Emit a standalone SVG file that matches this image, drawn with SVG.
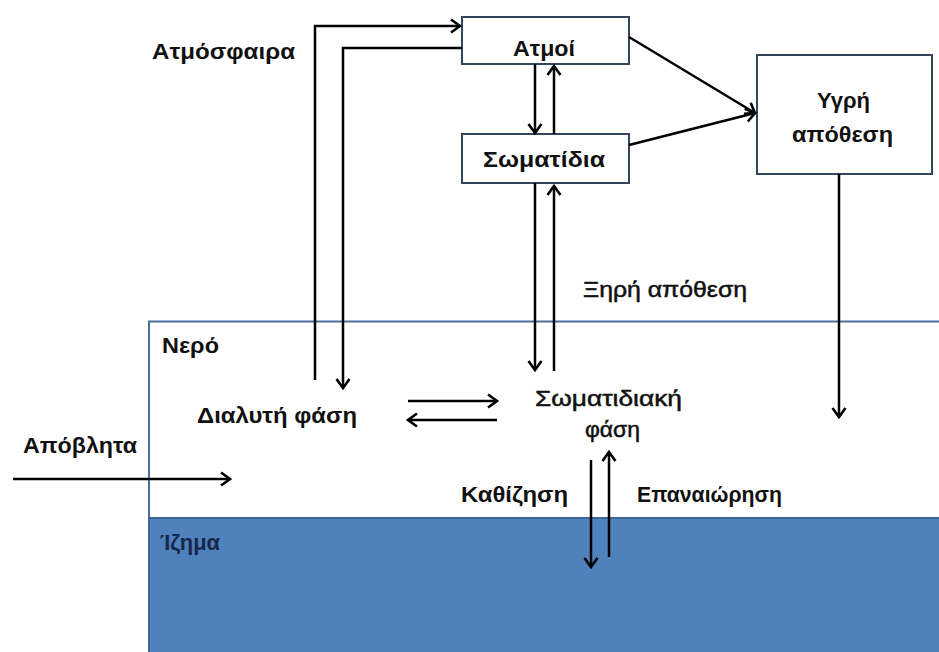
<svg xmlns="http://www.w3.org/2000/svg" width="939" height="652" viewBox="0 0 939 652">
<defs>
<marker id="ah" markerUnits="userSpaceOnUse" markerWidth="20" markerHeight="20" viewBox="-12 -10 14 20" refX="0" refY="0" orient="auto">
<path d="M-9,-6.5 L0,0 L-9,6.5" fill="none" stroke="#000" stroke-width="2.6" stroke-linejoin="miter"/>
</marker>
</defs>
<style>
.t{font-family:"Liberation Sans",Arial,sans-serif;font-size:22px;fill:#111;}
.b{font-weight:bold;}
.m{stroke:#111;stroke-width:0.5px;}
.box{fill:#fff;stroke:#34465e;stroke-width:2;}
.c{fill:none;stroke:#000;stroke-width:2.5;marker-end:url(#ah);}
</style>
<rect width="939" height="652" fill="#fff"/>
<g id="water">
<rect x="149" y="321.5" width="795" height="197" fill="#fff" stroke="#4a6f9e" stroke-width="2"/>
<text class="t b" x="162" y="353" textLength="57" lengthAdjust="spacingAndGlyphs">Νερό</text>
</g>
<g id="sediment">
<rect x="149" y="518" width="795" height="140" fill="#4f81bd" stroke="#3d6597" stroke-width="2"/>
<text class="t b" x="160" y="550" textLength="60" lengthAdjust="spacingAndGlyphs" style="fill:#15284a">Ίζημα</text>
</g>
<g id="atmosphere-label">
<text class="t b" x="152" y="59" textLength="143" lengthAdjust="spacingAndGlyphs">Ατμόσφαιρα</text>
</g>
<g id="vapors">
<rect class="box" x="462" y="17" width="167" height="47"/>
<text class="t b" x="513" y="56" textLength="62" lengthAdjust="spacingAndGlyphs">Ατμοί</text>
</g>
<g id="particles">
<rect class="box" x="462" y="134" width="167" height="49"/>
<text class="t b" x="483" y="167" textLength="122" lengthAdjust="spacingAndGlyphs">Σωματίδια</text>
</g>
<g id="wet-deposition">
<rect class="box" x="757" y="55" width="175" height="119"/>
<text class="t b" x="817" y="108" textLength="53" lengthAdjust="spacingAndGlyphs">Υγρή</text>
<text class="t b" x="792" y="142" textLength="101" lengthAdjust="spacingAndGlyphs">απόθεση</text>
</g>
<g id="dry-deposition-label">
<text class="t m" x="583" y="297" textLength="164" lengthAdjust="spacingAndGlyphs">Ξηρή απόθεση</text>
</g>
<g id="dissolved-phase">
<text class="t b" x="197" y="423" textLength="160" lengthAdjust="spacingAndGlyphs">Διαλυτή φάση</text>
</g>
<g id="particulate-phase">
<text class="t m" x="535" y="406" textLength="147" lengthAdjust="spacingAndGlyphs">Σωματιδιακή</text>
<text class="t m" x="585" y="437" textLength="55" lengthAdjust="spacingAndGlyphs">φάση</text>
</g>
<g id="waste-label">
<text class="t b" x="23" y="453" textLength="114" lengthAdjust="spacingAndGlyphs">Απόβλητα</text>
</g>
<g id="settling-label">
<text class="t b" x="461" y="502" textLength="107" lengthAdjust="spacingAndGlyphs">Καθίζηση</text>
</g>
<g id="resuspension-label">
<text class="t b" x="637" y="502" textLength="145" lengthAdjust="spacingAndGlyphs">Επαναιώρηση</text>
</g>
<g id="connectors">
<path class="c" d="M315,380 V26 H460"/>
<path class="c" d="M462,48 H343 V388"/>
<path class="c" d="M535,64 V133"/>
<path class="c" d="M554,134 V66"/>
<path class="c" d="M535,183 V370"/>
<path class="c" d="M554,371 V186"/>
<path class="c" d="M408,401 H497"/>
<path class="c" d="M497,420 H408"/>
<path class="c" d="M591,460 V567"/>
<path class="c" d="M609,557 V452"/>
<path class="c" d="M629,37 L755,113"/>
<path class="c" d="M629,145 L755,113"/>
<path class="c" d="M839,174 V417"/>
<path class="c" d="M13,479 H230"/>
</g>
</svg>
